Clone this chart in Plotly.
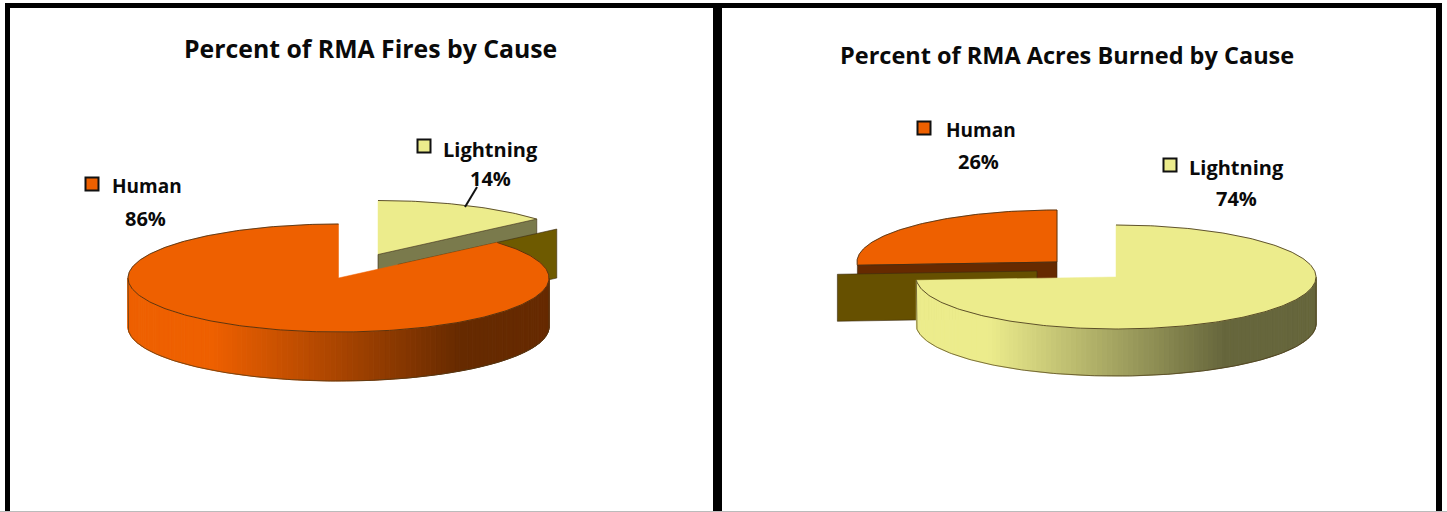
import math
import plotly.graph_objects as go

# ---- data ----
causes = ["Lightning", "Human"]
fires_share = [13.6, 86.4]
acres_share = [74, 26]
fires_labels = ["14%", "86%"]
acres_labels = ["74%", "26%"]
chart_titles = ["Percent of RMA Fires by Cause", "Percent of RMA Acres Burned by Cause"]

FONT = "Open Sans"
TXT = "#0a0a0a"
ORANGE, ORANGE_D = (238, 96, 0), (102, 42, 0)
PALE, PALE_D = (236, 236, 140), (102, 102, 60)


def hex_of(c):
    return "rgb(%d,%d,%d)" % tuple(round(v) for v in c)


def pt(cx, cy, rx, ry, deg):
    a = math.radians(deg)
    return cx + rx * math.sin(a), cy - ry * math.cos(a)


def arc(cx, cy, rx, ry, a0, a1, step=1.0):
    n = max(2, int(abs(a1 - a0) / step))
    return [pt(cx, cy, rx, ry, a0 + (a1 - a0) * i / n) for i in range(n + 1)]


def poly(fig, pts, fill, line=None, width=0.7):
    xs = [p[0] for p in pts] + [pts[0][0]]
    ys = [p[1] for p in pts] + [pts[0][1]]
    fig.add_trace(go.Scatter(
        x=xs, y=ys, mode="lines", fill="toself", fillcolor=fill,
        line=dict(color=line or fill, width=width), hoverinfo="skip", showlegend=False))


def stroke(fig, pts, color="#3a2a10", width=0.8):
    fig.add_trace(go.Scatter(x=[p[0] for p in pts], y=[p[1] for p in pts], mode="lines",
                             line=dict(color=color, width=width), hoverinfo="skip", showlegend=False))


def top_face(fig, g, a0, a1, color, closed=False):
    rim = arc(g["cx"], g["cy"], g["rx"], g["ry"], a0, a1)
    pts = [(g["cx"], g["cy"])] + rim
    poly(fig, pts, hex_of(color), hex_of(color), 0.5)
    stroke(fig, pts + [pts[0]] if closed else rim)


def front_wall(fig, g, a0, a1, light, dark, shade0=0.2, shade1=0.79):
    lo, hi = max(a0, 90), min(a1, 270)
    if hi <= lo:
        return
    x_left = g["cx"] - g["rx"]
    n = int((hi - lo) / 1.5) + 1
    for i in range(n):
        s = lo + (hi - lo) * i / n
        e = lo + (hi - lo) * (i + 1) / n
        p0 = pt(g["cx"], g["cy"], g["rx"], g["ry"], s)
        p1 = pt(g["cx"], g["cy"], g["rx"], g["ry"], e)
        f = ((p0[0] + p1[0]) / 2 - x_left) / (2 * g["rx"])
        t = min(1, max(0, (f - shade0) / (shade1 - shade0)))
        col = [light[k] + (dark[k] - light[k]) * t for k in range(3)]
        poly(fig, [p0, p1, (p1[0], p1[1] + g["d"]), (p0[0], p0[1] + g["d"])], hex_of(col), width=1)
    edge = arc(g["cx"], g["cy"], g["rx"], g["ry"], lo, hi)
    edge = [edge[-1]] + [(x, y + g["d"]) for x, y in reversed(edge)] + [edge[0]]
    stroke(fig, edge, "#4a3a18", 0.7)


def cut_face(fig, g, deg, color):
    apex = (g["cx"], g["cy"])
    c = pt(g["cx"], g["cy"], g["rx"], g["ry"], deg)
    poly(fig, [apex, c, (c[0], c[1] + g["d"]), (apex[0], apex[1] + g["d"])], hex_of(color), "#3a2a10", 0.6)


def ghost_face(fig, g, deg, dx, dy, color):
    apex = (g["cx"] + dx, g["cy"] + dy)
    c0 = pt(g["cx"], g["cy"], g["rx"], g["ry"], deg)
    c = (c0[0] + dx, c0[1] + dy)
    poly(fig, [apex, c, (c[0], c[1] + g["d"]), (apex[0], apex[1] + g["d"])], hex_of(color), "#3a2a10", 0.6)


fig = go.Figure()

# ---- left chart: Lightning pulled up-right ----
L = dict(cx=338.5, cy=278, rx=210.5, ry=54, d=49)
L_pull = dict(L, cx=L["cx"] + 39.5, cy=L["cy"] - 23.5)
a_l = fires_share[0] * 3.6
top_face(fig, L_pull, 0, a_l, PALE)
cut_face(fig, L_pull, a_l, (122, 122, 76))
ghost_face(fig, L_pull, a_l, 20, 10, (110, 90, 0))
front_wall(fig, L, a_l, 360, ORANGE, ORANGE_D)
top_face(fig, L, a_l, 360, ORANGE)

# ---- right chart: Human pulled up-left ----
R = dict(cx=1116, cy=277, rx=200, ry=52, d=47)
R_pull = dict(R, cx=R["cx"] - 59, cy=R["cy"] - 15)
a_r = acres_share[0] * 3.6
top_face(fig, R_pull, a_r, 360, ORANGE, closed=True)
cut_face(fig, R_pull, a_r, ORANGE_D)
ghost_face(fig, R_pull, a_r, -20, 9, (102, 80, 0))
front_wall(fig, R, 0, a_r, PALE, PALE_D, 0.18, 0.77)
top_face(fig, R, 0, a_r, PALE)

# ---- leader line ----
fig.add_trace(go.Scatter(x=[465, 477], y=[207, 187], mode="lines", line=dict(color="#111", width=2),
                         hoverinfo="skip", showlegend=False))

# ---- legend keys ----
key_x = [424, 92, 1170, 924]
key_y = [146, 184, 165, 128]
key_c = [hex_of(PALE), hex_of(ORANGE), hex_of(PALE), hex_of(ORANGE)]
fig.add_trace(go.Scatter(x=key_x, y=key_y, mode="markers", hoverinfo="skip", showlegend=False,
                         marker=dict(symbol="square", size=13, color=key_c, line=dict(color="#111", width=2))))

# ---- text ----
def text(x, y, s, size, anchor="center"):
    fig.add_annotation(x=x, y=y, text=s, showarrow=False, xanchor=anchor, yanchor="middle",
                       font=dict(family=FONT, size=size, color=TXT, weight=700))

text(370, 48, chart_titles[0], 24.8)
text(1067, 55, chart_titles[1], 23.5)
text(110, 186, causes[1], 19, "left")
text(145, 218, fires_labels[1], 20)
text(441, 149, causes[0], 20, "left")
text(490, 178, fires_labels[0], 20)
text(944, 130, causes[1], 19, "left")
text(978, 161, acres_labels[1], 20)
text(1187, 167, causes[0], 20, "left")
text(1236, 198, acres_labels[0], 20)

# ---- frames ----
frames = [(5, 3, 1442, 8), (5, 3, 10, 512), (713, 3, 722, 512), (1436, 3, 1442, 512)]
shapes = [dict(type="rect", x0=a, y0=b, x1=c, y1=e, fillcolor="#000", line=dict(width=0), layer="above")
          for a, b, c, e in frames]
shapes.append(dict(type="line", x0=0, x1=1447, y0=511.5, y1=511.5, line=dict(color="#bbb", width=1), layer="above"))

fig.update_layout(
    width=1447, height=512, margin=dict(l=0, r=0, t=0, b=0), autosize=False,
    paper_bgcolor="white", plot_bgcolor="white", showlegend=False, shapes=shapes,
    xaxis=dict(range=[0, 1447], visible=False, fixedrange=True),
    yaxis=dict(range=[512, 0], visible=False, fixedrange=True),
)

fig.write_html("out.html", config=dict(displayModeBar=False),
               post_script="document.body.style.margin='0';document.body.style.overflow='hidden';")
